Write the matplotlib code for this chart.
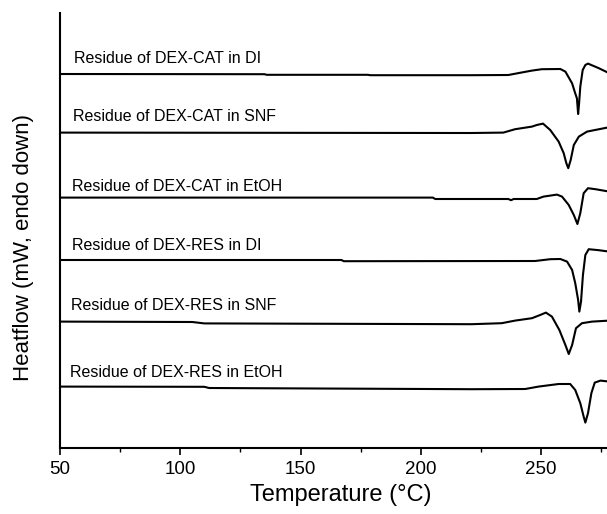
import matplotlib.pyplot as plt
from matplotlib.ticker import MultipleLocator

plt.rcParams['font.family'] = ['Liberation Sans', 'DejaVu Sans']

# DSC traces, stacked (heatflow in mW, endo down)
t_cat_di = [50, 135, 136, 178, 179, 221.1, 236.4, 239.9, 246.2, 250.3, 258.0, 260.1, 262.1, 262.9,
            264.2, 264.9, 265.4, 265.8, 266.3, 267.3, 268.4, 269.5, 274.0, 278.3]
hf_cat_di = [18.70, 18.69, 18.66, 18.66, 18.64, 18.64, 18.65, 18.73, 18.87, 18.94, 18.95, 18.82, 18.40, 18.23,
             17.73, 17.48, 16.70, 17.23, 18.07, 18.90, 19.15, 19.22, 18.99, 18.74]

t_cat_snf = [50, 221.1, 234.3, 239.2, 246.2, 248.2, 250.8, 253.8, 257.3, 259.4, 260.5, 261.3, 262.3,
             263.6, 265.7, 269.1, 278.3]
hf_cat_snf = [15.77, 15.75, 15.77, 15.94, 16.07, 16.15, 16.22, 15.90, 15.32, 14.74, 14.24, 13.99, 14.40,
              15.15, 15.57, 15.82, 16.04]

t_cat_etoh = [50, 205, 206, 236.4, 237.5, 238.6, 248.2, 251.0, 256.6, 258.7, 261.5, 263.6, 265.1, 266.3,
              267.7, 269.5, 272.6, 278.3]
hf_cat_etoh = [12.52, 12.52, 12.45, 12.45, 12.39, 12.45, 12.45, 12.57, 12.67, 12.57, 12.15, 11.65, 11.20, 11.74,
               12.74, 12.99, 12.94, 12.82]

t_res_di = [50, 167, 168, 247.5, 253.8, 258.0, 260.8, 262.9, 264.2, 265.4, 265.9, 266.6, 267.4,
            268.4, 269.8, 274.0, 278.3]
hf_res_di = [9.40, 9.40, 9.34, 9.35, 9.44, 9.45, 9.32, 8.90, 8.24, 7.40, 6.82, 7.32, 8.65,
             9.65, 9.94, 9.89, 9.82]

t_res_snf = [50, 105, 110, 221.1, 233.6, 239.2, 246.2, 249.6, 252.0, 254.5, 257.6, 260.1, 261.5,
             262.9, 264.5, 267.0, 271.2, 278.3]
hf_res_snf = [6.32, 6.30, 6.23, 6.19, 6.24, 6.37, 6.49, 6.65, 6.77, 6.57, 5.90, 5.15, 4.70,
              5.15, 5.99, 6.24, 6.32, 6.37]

t_res_etoh = [50, 110, 112, 221.1, 243.4, 248.9, 257.3, 262.1, 264.2, 266.3, 267.7, 268.4, 269.5,
              270.9, 272.3, 274.7, 278.3]
hf_res_etoh = [3.07, 3.06, 3.00, 2.94, 2.95, 3.07, 3.20, 3.20, 2.90, 2.24, 1.57, 1.27, 1.74,
               2.74, 3.27, 3.37, 3.32]

labels = ["Residue of DEX-CAT in DI", "Residue of DEX-CAT in SNF", "Residue of DEX-CAT in EtOH",
          "Residue of DEX-RES in DI", "Residue of DEX-RES in SNF", "Residue of DEX-RES in EtOH"]


def main():
    curves = [(t_cat_di, hf_cat_di), (t_cat_snf, hf_cat_snf), (t_cat_etoh, hf_cat_etoh),
              (t_res_di, hf_res_di), (t_res_snf, hf_res_snf), (t_res_etoh, hf_res_etoh)]
    label_x = [55.9, 55.3, 54.9, 54.9, 54.4, 54.2]
    label_y = [19.27, 16.35, 12.87, 9.90, 6.90, 3.53]

    fig = plt.figure(figsize=(6.07, 5.14), dpi=100)
    ax = fig.add_axes([0.0988, 0.1284, 0.9012, 0.8463])

    for (t, hf), name, lx, ly in zip(curves, labels, label_x, label_y):
        ax.plot(t, hf, color='black', lw=1.5, solid_joinstyle='round')
        ax.text(lx, ly, name, fontsize=11.5, va='baseline', ha='left')

    ax.set_xlim(50, 277.4)
    ax.set_ylim(0, 21.75)

    ax.spines['top'].set_visible(False)
    ax.spines['right'].set_visible(False)
    ax.spines['left'].set_linewidth(1.5)
    ax.spines['bottom'].set_linewidth(1.5)

    ax.xaxis.set_major_locator(MultipleLocator(50))
    ax.xaxis.set_minor_locator(MultipleLocator(25))
    ax.tick_params(axis='x', which='major', direction='out', length=5, width=1.2, labelsize=13.5, pad=4)
    ax.tick_params(axis='x', which='minor', direction='out', length=3, width=1.0)
    ax.set_yticks([])

    ax.set_xlabel('Temperature (°C)', fontsize=17)
    ax.xaxis.set_label_coords(0.514, -0.083)
    ax.set_ylabel('Heatflow (mW, endo down)', fontsize=16)
    ax.yaxis.set_label_coords(-0.047, 0.462)

    plt.savefig("out.png", dpi=100)


if __name__ == "__main__":
    main()
